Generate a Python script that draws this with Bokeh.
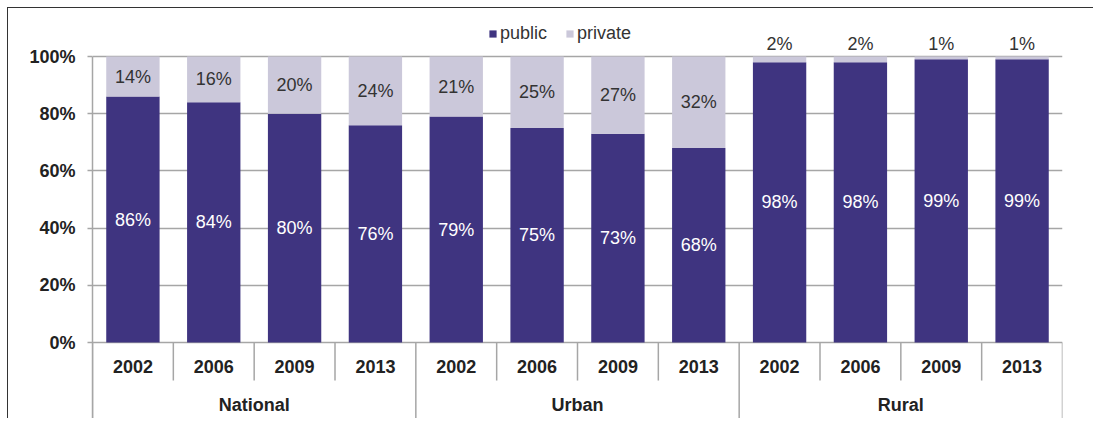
from bokeh.plotting import figure
from bokeh.models import Range1d, FixedTicker, PrintfTickFormatter, ColumnDataSource, Legend, LegendItem
from bokeh.core.properties import value
from bokeh.embed import file_html
from bokeh.resources import INLINE

# ---- data ----
groups = ["National", "Urban", "Rural"]
years = ["2002", "2006", "2009", "2013"]
public = [86, 84, 80, 76, 79, 75, 73, 68, 98, 98, 99, 99]
private = [14, 16, 20, 24, 21, 25, 27, 32, 2, 2, 1, 1]
y_ticks = [0, 20, 40, 60, 80, 100]

# ---- style ----
FONT = "Liberation Sans"
C_PUB = "#3F3480"
C_PRI = "#CBC8DA"
C_GRID = "#A6A6A6"

W, H = 1086, 411
px_per_unit = 2.86
zero_px = 334          # canvas y of 0%
y_top = zero_px / px_per_unit
y_bot = -(H - zero_px) / px_per_unit

n = len(public)
p = figure(width=W, height=H, output_backend="svg", toolbar_location=None,
           x_range=Range1d(0, n), y_range=Range1d(y_bot, y_top),
           x_axis_type=None, min_border_left=84, min_border_right=32,
           min_border_top=0, min_border_bottom=0, outline_line_color=None)
p.styles = {"border-top": "1px solid #333333", "border-left": "1px solid #333333",
            "margin-left": "7px", "margin-top": "7px"}

xs = [i + 0.5 for i in range(n)]
src = ColumnDataSource(dict(x=xs, public=public, private=private,
                            pub_mid=[v / 2 for v in public],
                            pri_mid=[pu + pr / 2 if pr >= 5 else 100 + 4.2 for pu, pr in zip(public, private)],
                            pub_lbl=[f"{v}%" for v in public],
                            pri_lbl=[f"{v}%" for v in private]))

rs = p.vbar_stack(["public", "private"], x="x", width=0.66, source=src,
                  color=[C_PUB, C_PRI], line_color=None)

p.text(x="x", y="pub_mid", text="pub_lbl", source=src, text_color="white",
       text_font=value(FONT), text_font_size="18px", text_align="center", text_baseline="middle")
p.text(x="x", y="pri_mid", text="pri_lbl", source=src, text_color="#333333",
       text_font=value(FONT), text_font_size="18px", text_align="center", text_baseline="middle")

# y axis
ax = p.yaxis[0]
ax.ticker = FixedTicker(ticks=y_ticks)
ax.formatter = PrintfTickFormatter(format="%d%%")
ax.bounds = (y_bot, 100)
ax.axis_line_color = C_GRID
ax.axis_line_width = 1.5
ax.major_tick_line_color = C_GRID
ax.major_tick_line_width = 1.5
ax.major_tick_out = 5
ax.major_tick_in = 0
ax.minor_tick_line_color = None
ax.major_label_standoff = 12
ax.major_label_text_font = FONT
ax.major_label_text_font_size = "18px"
ax.major_label_text_font_style = "bold"
ax.major_label_text_color = "#222222"

p.xgrid.visible = False
p.ygrid.ticker = FixedTicker(ticks=y_ticks)
p.ygrid.grid_line_color = C_GRID
p.ygrid.grid_line_width = 1.5

# category axis drawn inside frame
year_lbl_y = -8.4
group_lbl_y = -22.0
year_sep_y = -13.3
p.text(x=xs, y=[year_lbl_y] * n, text=[years[i % 4] for i in range(n)],
       text_font=value(FONT), text_font_size="18px", text_font_style="bold",
       text_color="#222222", text_align="center", text_baseline="middle")
gx = [len(years) * g + len(years) / 2 for g in range(len(groups))]
p.text(x=gx, y=[group_lbl_y] * len(groups), text=groups,
       text_font=value(FONT), text_font_size="18px", text_font_style="bold",
       text_color="#222222", text_align="center", text_baseline="middle")
sep_x = list(range(n + 1))
sep_y1 = [y_bot if i % len(years) == 0 else year_sep_y for i in sep_x]
p.segment(x0=sep_x, y0=[0] * len(sep_x), x1=sep_x, y1=sep_y1,
          line_color=C_GRID, line_width=1.5)

legend = Legend(items=[LegendItem(label="public", renderers=[rs[0]]),
                       LegendItem(label="private", renderers=[rs[1]])],
                orientation="horizontal", location=(396, 375),
                glyph_width=9, glyph_height=9, label_standoff=3, spacing=18,
                padding=0, margin=0, border_line_color=None, background_fill_alpha=0,
                label_text_font=FONT, label_text_font_size="18px", label_text_color="#333333")
p.add_layout(legend, "center")

open("out.html", "w").write(file_html(p, INLINE))
